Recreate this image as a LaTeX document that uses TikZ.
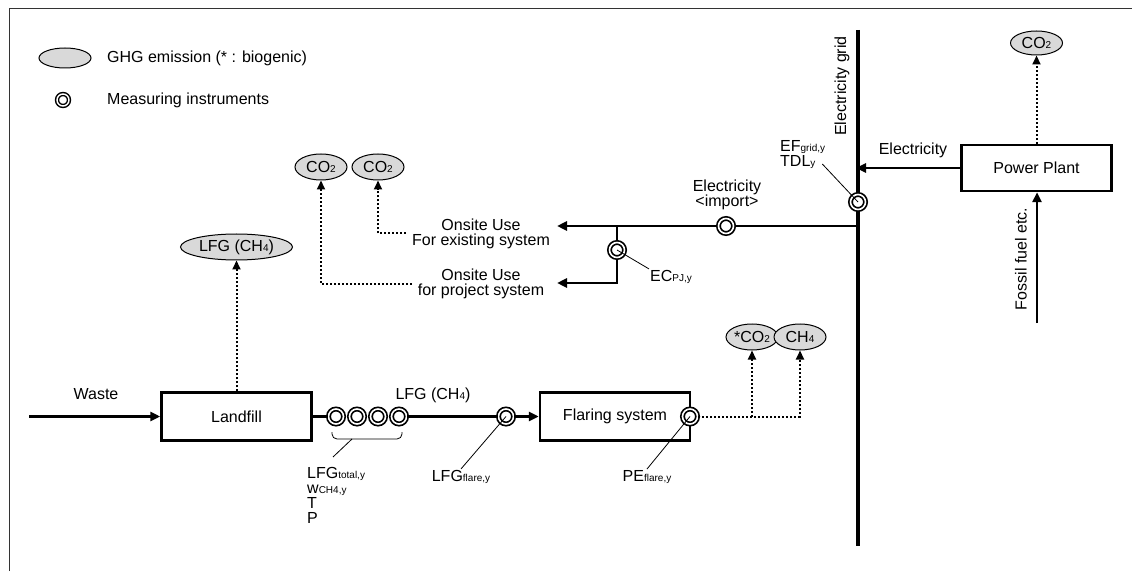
\documentclass[tikz,border=0pt]{standalone}
\usepackage{fontspec}
\setmainfont{Liberation Sans}
\usetikzlibrary{arrows.meta,shapes.geometric}
\definecolor{gasgray}{RGB}{217,217,217}
\newcommand{\subtxt}[1]{\raisebox{-0.5pt}{\fontsize{10}{10}\selectfont #1}}

\begin{document}
\begin{tikzpicture}[x=1pt, y=1pt,
    every node/.style={font=\fontsize{16}{15}\selectfont},
    box/.style={draw, line width=2.5pt, minimum width=150pt, minimum height=48pt, inner sep=0pt},
    gas/.style={ellipse, draw, line width=1pt, fill=gasgray, minimum width=52pt, minimum height=26pt, inner sep=0pt},
    meter/.style={circle, draw, fill=white, line width=1.7pt, double=white, double distance=1.6pt, minimum size=15pt, inner sep=0pt},
    flow/.style={line width=2.5pt},
    emis/.style={line width=2pt, dash pattern=on 2pt off 2pt},
    lead/.style={line width=0.8pt},
    lbl/.style={inner sep=1pt},
    tip/.style={-{Triangle[length=10pt,width=9pt]}},
    tipd/.style={-{Triangle[length=9pt,width=8pt]}}
]
    \useasboundingbox (0,0) rectangle (1132,571);

    % Frame
    \draw[line width=1pt, black!80] (9,0) -- (9,562) -- (1132,562);

    % Legend
    \node[gas, minimum height=20pt] (leggas) at (65,513) {};
    \node[lbl, anchor=west] (leggastxt) at (106,513) {GHG emission (* : biogenic)};
    \node[meter, minimum size=12pt, line width=1.5pt, double distance=1.4pt] (legmeter) at (63,471) {};
    \node[lbl, anchor=west] (legmetertxt) at (106,471) {Measuring instruments};

    % Process boxes
    \node[box] (land) at (236.5,154.5) {Landfill};
    \node[box] (flare) at (615,154.5) {Flaring system};
    \node[box, minimum height=46pt] (plant) at (1036.5,403) {Power Plant};

    % GHG emissions
    \node[gas, minimum width=112pt] (lfggas) at (236.5,324) {LFG (CH\subtxt{4})};
    \node[gas] (co2a) at (321,404) {CO\subtxt{2}};
    \node[gas] (co2b) at (378,404) {CO\subtxt{2}};
    \node[gas] (bco2) at (752,234) {*CO\subtxt{2}};
    \node[gas] (ch4) at (800,234) {CH\subtxt{4}};
    \node[gas, minimum height=24pt] (co2p) at (1036.5,528) {CO\subtxt{2}};

    % Onsite use
    \node[lbl, align=center, inner xsep=6pt] (exist) at (481,337.5) {Onsite Use\\For existing system};
    \node[lbl, align=center, inner xsep=6pt] (proj) at (481,287) {Onsite Use\\for project system};

    % Labels
    \node[lbl] (wastetxt) at (96,177) {Waste};
    \node[lbl] (lfgtxt) at (433,176) {LFG (CH\subtxt{4})};
    \node[lbl] (electxt) at (913,421) {Electricity};
    \node[lbl, align=center] (imptxt) at (727,376.5) {Electricity\\<import>};
    \node[lbl, rotate=90] (gridtxt) at (842,485) {Electricity grid};
    \node[lbl, rotate=90] (fueltxt) at (1021,312) {Fossil fuel etc.};
    \node[lbl, align=left, anchor=north west] (eftxt) at (779,432) {EF\subtxt{grid,y}\\TDL\subtxt{y}};
    \node[lbl, anchor=west] (ectxt) at (649,294) {EC\subtxt{PJ,y}};
    \node[lbl] (lfgflaretxt) at (461,94) {LFG\subtxt{flare,y}};
    \node[lbl] (petxt) at (647,94) {PE\subtxt{flare,y}};
    \node[lbl, align=left, anchor=north west] (tottxt) at (306,105) {LFG\subtxt{total,y}\\w\subtxt{CH4,y}\\T\\P};

    % Coordinates on the grid side
    \coordinate (gtop) at (858,541);
    \coordinate (gbot) at (858,25);
    \coordinate (gin) at (856,403);
    \coordinate (gj) at (858,345);
    \coordinate (bj) at (617,345);
    \coordinate (bk) at (617,288);
    \coordinate (existtip) at (557,345);
    \coordinate (projtip) at (557,288);
    \coordinate (fuel) at (1037,248);
    \coordinate (wastein) at (29,154.5);

    % Electricity lines
    \draw[flow, line width=3.5pt] (gtop) -- (gbot);
    \draw[flow, tip] (plant.west) -- (gin);
    \draw[flow, tip] (fuel) -- (fuel |- plant.south);
    \draw[flow, tip] (gj) -- (existtip);
    \draw[flow, tip] (bj) -- (bk) -- (projtip);

    % Meters
    \node[meter] (lt1) at (336,154.5) {};
    \node[meter] (lt2) at (357,154.5) {};
    \node[meter] (lt3) at (378,154.5) {};
    \node[meter] (lt4) at (399,154.5) {};
    \node[meter] (lf) at (506,154.5) {};
    \node[meter] (pe) at (690,154.5) {};
    \node[meter] (imp) at (726,345) {};
    \node[meter] (ec) at (617,321) {};
    \node[meter] (gm) at (858,369) {};

    % Gas flow
    \draw[flow, tip] (wastein) -- (land.west);
    \draw[flow] (land.east) -- (lt1.west);
    \draw[flow] (lt4.east) -- (lf.west);
    \draw[flow, tip] (lf.east) -- (flare.west);

    % Emission paths
    \draw[emis, tipd] (land.north) -- (lfggas.south);
    \draw[emis, tipd] (exist.west) -| (co2b.south);
    \draw[emis, tipd] (proj.west) -| (co2a.south);
    \draw[emis, tipd] (plant.north) -- (co2p.south);
    \draw[emis, tipd] (pe.east) -| (ch4.south);
    \draw[emis, tipd] (pe.east -| bco2.south) -- (bco2.south);

    % Leaders
    \coordinate (brtip) at (352,132);
    \coordinate (totend) at (333,114);
    \draw[lead, rounded corners=5pt] (332,139) -- (332,132) -- (402,132) -- (402,139);
    \draw[lead] (brtip) -- (totend);
    \draw[lead] (lf.center) -- (lfgflaretxt.north);
    \draw[lead] (pe.center) -- (petxt.north);
    \draw[lead] (ec.center) -- (ectxt.north west);
    \draw[lead] (gm.center) -- ([shift={(-4,6)}]eftxt.south east);
\end{tikzpicture}
\end{document}
